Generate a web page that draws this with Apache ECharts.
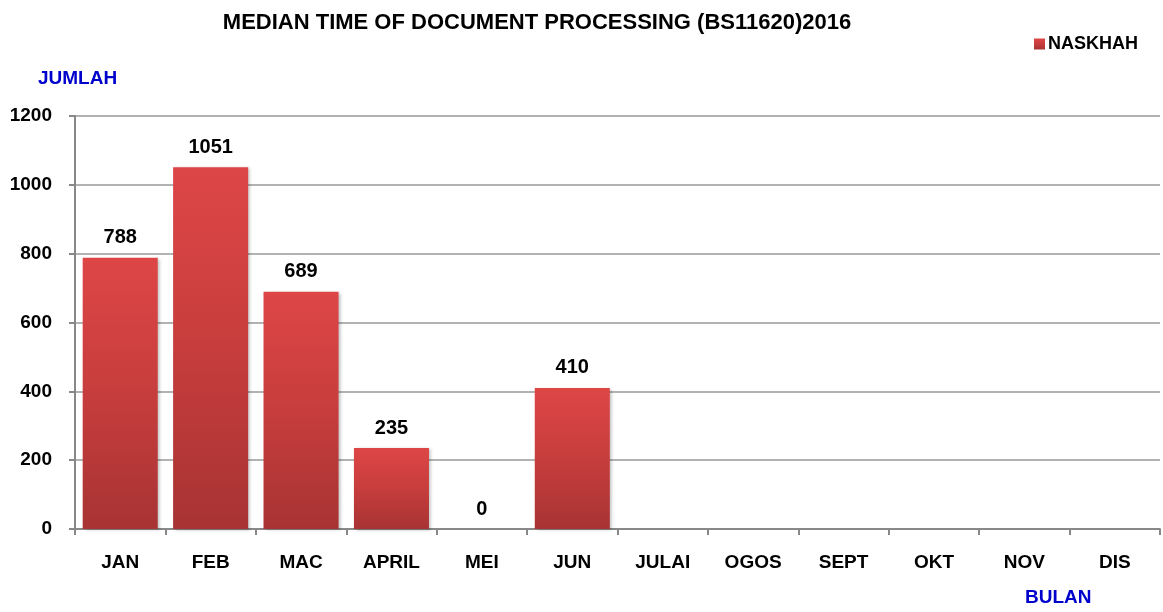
<!DOCTYPE html>
<html>
<head>
<meta charset="utf-8">
<script src="https://cdn.jsdelivr.net/npm/echarts@6/dist/echarts.min.js"></script>
<style>html,body{margin:0;padding:0;background:#fff}#c{width:1163px;height:612px}</style>
</head>
<body>
<div id="c"></div>
<script>
const categories = ['JAN','FEB','MAC','APRIL','MEI','JUN','JULAI','OGOS','SEPT','OKT','NOV','DIS'];
const naskhah = [788, 1051, 689, 235, 0, 410, null, null, null, null, null, null];
const yTicks = [0, 200, 400, 600, 800, 1000, 1200];

const chart = echarts.init(document.getElementById('c'));
const F = '"Liberation Sans", Arial, sans-serif';
chart.setOption({
  animation: false,
  title: {
    text: 'MEDIAN TIME OF DOCUMENT PROCESSING (BS11620)2016',
    left: 532, top: 7, textAlign: 'center',
    textStyle: { fontFamily: F, fontSize: 22, fontWeight: 'bold', color: '#000' }
  },
  legend: {
    data: ['NASKHAH'], right: 20, top: 30, itemWidth: 11, itemHeight: 11, itemGap: 3,
    icon: 'rect',
    textStyle: { fontFamily: F, fontSize: 18, fontWeight: 'bold', color: '#000', padding: [0,0,0,-2] }
  },
  graphic: [
    { type: 'text', left: 38, top: 69, style: { text: 'JUMLAH', fontFamily: F, fontSize: 19, fontWeight: 'bold', fill: '#0000cc' } },
    { type: 'text', left: 1025, top: 588, style: { text: 'BULAN', fontFamily: F, fontSize: 19, fontWeight: 'bold', fill: '#0000cc' } }
  ],
  grid: { left: 75, right: 3, top: 116, bottom: 83 },
  xAxis: {
    type: 'category', data: categories,
    axisLine: { lineStyle: { color: '#888', width: 2 } },
    axisTick: { show: true, length: 6, lineStyle: { color: '#888', width: 2 } },
    axisLabel: { fontFamily: F, fontSize: 19, fontWeight: 'bold', color: '#000', margin: 24 }
  },
  yAxis: {
    type: 'value', min: 0, max: 1200, interval: 200,
    axisLine: { show: true, lineStyle: { color: '#888', width: 2 } },
    axisTick: { show: true, length: 6, lineStyle: { color: '#888', width: 2 } },
    splitLine: { lineStyle: { color: '#999', width: 1.5 } },
    axisLabel: { fontFamily: F, fontSize: 19, fontWeight: 'bold', color: '#000', margin: 23,
      formatter: v => yTicks.includes(v) ? String(v) : '' }
  },
  series: [{
    name: 'NASKHAH', type: 'bar', data: naskhah, barCategoryGap: '17%',
    itemStyle: {
      color: new echarts.graphic.LinearGradient(0, 0, 0, 1, [
        { offset: 0, color: '#de4646' },
        { offset: 0.5, color: '#c73d3d' },
        { offset: 1, color: '#a83333' }
      ]),
      borderWidth: 0,
      shadowColor: 'rgba(0,0,0,0.25)', shadowBlur: 3, shadowOffsetX: 2, shadowOffsetY: 1
    },
    label: { show: true, position: 'top', distance: 10, fontFamily: F, fontSize: 20, fontWeight: 'bold', color: '#000' }
  }]
});
</script>
</body>
</html>
